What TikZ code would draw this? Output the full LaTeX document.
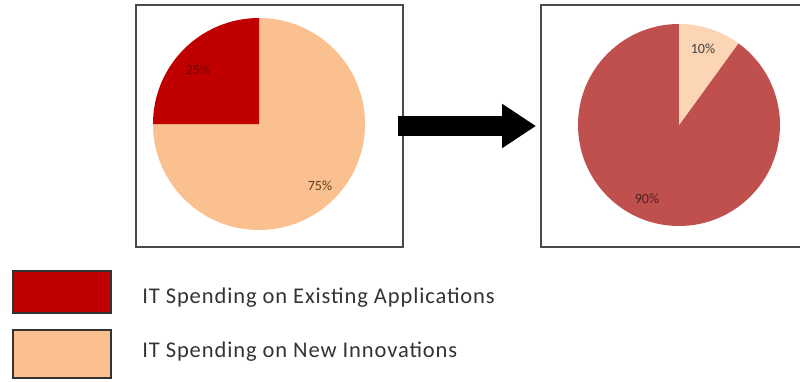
\documentclass[tikz,border=0pt]{standalone}
\usepackage{fontspec}
\setmainfont{Carlito}
\usetikzlibrary{arrows.meta}

\definecolor{oldred}{HTML}{C00000}
\definecolor{oldpeach}{HTML}{FAC090}
\definecolor{newred}{HTML}{C0504D}
\definecolor{newpeach}{HTML}{FCD5B5}
\definecolor{framegray}{HTML}{4A4A4A}

\begin{document}
\begin{tikzpicture}[
    x=0.025cm, y=0.025cm,
    chartbox/.style={
        rectangle,
        draw=framegray,
        line width=1.3pt,
        minimum width=6.675cm,
        minimum height=6.05cm
    },
    keybox/.style={
        rectangle,
        draw=black!80,
        line width=0.8pt,
        minimum width=2.45cm
    },
    keytext/.style={
        anchor=base west,
        inner sep=0pt,
        font=\fontsize{16}{19}\selectfont\addfontfeature{LetterSpace=4},
        text=black!80
    },
    pct/.style={
        font=\fontsize{10}{12}\selectfont,
        inner sep=0pt
    }
]
\clip (0,0) rectangle (800,-381);
\useasboundingbox (0,0) rectangle (800,-381);

\node[chartbox] (before) at (269.5,-126) {};
\node[chartbox, minimum width=6.9cm] (after) at (679,-126) {};

% Pie before
\coordinate (c1) at (259,-124);
\fill[oldpeach] (c1) -- ++(180:106) arc[start angle=180, end angle=450, radius=106] -- cycle;
\fill[oldred] (c1) -- ++(90:106) arc[start angle=90, end angle=180, radius=106] -- cycle;
\node[pct, text=oldred!60!black] (p25) at (198,-70) {25\%};
\node[pct, text=brown!50!black] (p75) at (320,-186) {75\%};

% Pie after
\coordinate (c2) at (679,-125);
\fill[newred] (c2) -- ++(90:101) arc[start angle=90, end angle=414, radius=101] -- cycle;
\fill[newpeach] (c2) -- ++(54:101) arc[start angle=54, end angle=90, radius=101] -- cycle;
\node[pct, text=black!75] (p10) at (703,-49) {10\%};
\node[pct, text=newred!40!black] (p90) at (647,-199) {90\%};

% Arrow
\draw[line width=14.9pt, black, shorten <=-6*0.7113pt, shorten >=4*0.7113pt,
    -{Triangle[length=24.2pt, width=29.9pt]}] (before.east) -- (after.west);

% Legend
\node[keybox, fill=oldred, minimum height=1.05cm] (keyold) at (62,-292) {};
\node[keybox, fill=oldpeach, minimum height=1.2cm] (keynew) at (62,-354) {};
\node[keytext] (txtold) at (142,-303) {IT Spending on Existing Applications};
\node[keytext] (txtnew) at (142,-357) {IT Spending on New Innovations};

\end{tikzpicture}
\end{document}
